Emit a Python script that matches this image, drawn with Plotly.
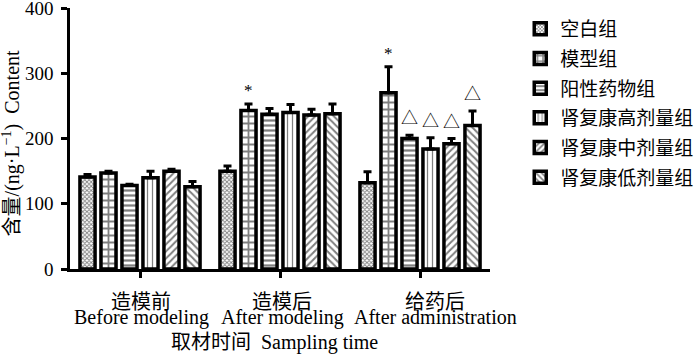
import plotly.graph_objects as go

categories = ["造模前", "造模后", "给药后"]
categories_en = ["Before modeling", "After modeling", "After administration"]
groups = ["空白组", "模型组", "阳性药物组", "肾复康高剂量组", "肾复康中剂量组", "肾复康低剂量组"]

blank = [141, 150, 132]
model = [147, 243, 270]
positive = [128, 237, 200]
high_dose = [140, 240, 184]
mid_dose = [150, 236, 192]
low_dose = [126, 238, 220]

blank_err = [4, 8, 17]
model_err = [3, 10, 40]
positive_err = [2, 9, 5]
high_err = [10, 12, 17]
mid_err = [3, 9, 8]
low_err = [8, 15, 22]

# significance marks: (group index, category index, symbol)
marks = [(1, 1, "*"), (1, 2, "*"), (2, 2, "△"), (3, 2, "△"), (4, 2, "△"), (5, 2, "△")]

values = [blank, model, positive, high_dose, mid_dose, low_dose]
errors = [blank_err, model_err, positive_err, high_err, mid_err, low_err]

patterns = [
    dict(shape="x", size=3, solidity=0.5),
    dict(shape="+", size=7, solidity=0.45),
    dict(shape="-", size=5, solidity=0.45),
    dict(shape="|", size=5, solidity=0.25),
    dict(shape="/", size=5, solidity=0.4),
    dict(shape="\\", size=5, solidity=0.4),
]

SERIF = "Liberation Serif, Times New Roman, Noto Sans CJK SC, serif"
CJK = "Noto Sans CJK SC"
BARGAP = 0.1
BARGROUPGAP = 0.28
LABEL_XSHIFT = [1, 2, 15]  # pixel nudges of the category labels, as in the reference layout

fig = go.Figure()
for name, vals, errs, pat in zip(groups, values, errors, patterns):
    fig.add_trace(go.Bar(
        name=name, legendgroup=name, x=list(range(len(categories))), y=vals,
        marker=dict(color="white", line=dict(color="black", width=3.5),
                    pattern=dict(fgcolor="black", bgcolor="white", fillmode="overlay", **pat)),
        error_y=dict(type="data", array=errs, arrayminus=[0] * len(errs), symmetric=False,
                     color="black", thickness=3, width=4),
    ))

slot = (1 - BARGAP) / len(groups)
for g, c, sym in marks:
    xpos = c + (g - (len(groups) - 1) / 2) * slot
    fig.add_annotation(x=xpos, y=values[g][c] + errors[g][c], text=sym, showarrow=False,
                       yanchor="bottom", yshift=2 if sym == "*" else 4,
                       font=dict(size=17, color="black",
                                 family=SERIF if sym == "*" else CJK))

# category labels (Chinese line + English line)
for i, (zh, en) in enumerate(zip(categories, categories_en)):
    fig.add_annotation(x=i, y=-0.12, yref="paper", text=zh, showarrow=False,
                       xshift=LABEL_XSHIFT[i], yanchor="middle",
                       font=dict(size=20, family=CJK, color="black"))
    fig.add_annotation(x=i, y=-0.184, yref="paper", text=en, showarrow=False,
                       xshift=LABEL_XSHIFT[i], yanchor="middle",
                       font=dict(size=20, family=SERIF, color="black"))

# x-axis title
fig.add_annotation(x=0.488, xref="paper", y=-0.283, yref="paper", yanchor="middle",
                   text="取材时间  Sampling time", showarrow=False,
                   font=dict(size=20, family=SERIF, color="black"))
# y-axis title
fig.add_annotation(x=-0.140, xref="paper", y=0.482, yref="paper", xanchor="center",
                   yanchor="middle", textangle=-90,
                   text="含量/(ng·L<sup>−1</sup>)  Content", showarrow=False,
                   font=dict(size=20, family=SERIF, color="black"))

fig.update_layout(
    width=700, height=354,
    margin=dict(l=70, r=210, t=8, b=85, autoexpand=False),
    paper_bgcolor="white", plot_bgcolor="white",
    barmode="group", bargap=BARGAP, bargroupgap=BARGROUPGAP,
    font=dict(family=SERIF, size=18, color="black"),
    showlegend=True,
    legend=dict(x=1.072, y=0.972, yref="container", xanchor="left", yanchor="top",
                font=dict(size=19, family=CJK, color="black"), maxheight=1,
                itemwidth=30, tracegroupgap=2, bgcolor="rgba(0,0,0,0)"),
)
fig.update_xaxes(
    tickmode="array", tickvals=list(range(len(categories))), showticklabels=False,
    range=[-0.5, 2.5], showline=True, linecolor="black", linewidth=2.5,
    ticks="outside", ticklen=6, tickwidth=2.5, tickcolor="black",
    showgrid=False, zeroline=False,
)
fig.update_yaxes(
    range=[0, 400], tickvals=[0, 100, 200, 300, 400], showline=True, linecolor="black",
    linewidth=2.5, ticks="outside", ticklen=6, tickwidth=2.5, tickcolor="black",
    ticklabelstandoff=4, ticklabeloverflow="allow", tickfont=dict(size=19),
    showgrid=False, zeroline=False,
)

fig.write_html("out.html", config={"displayModeBar": False},
               post_script="document.body.style.margin='0';")
